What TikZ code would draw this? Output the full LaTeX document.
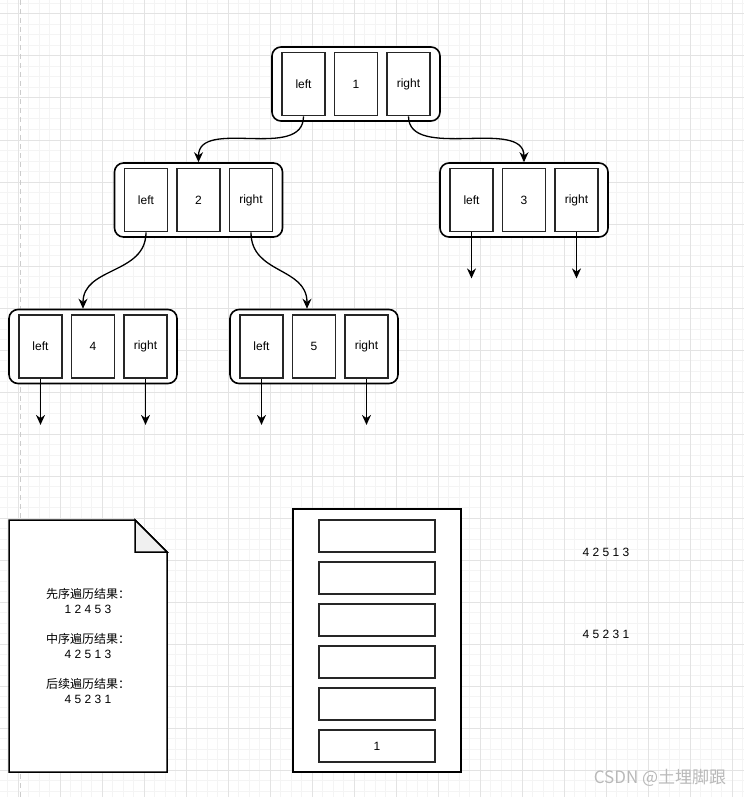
\documentclass[tikz,border=0pt]{standalone}
\usepackage{fontspec}
\setmainfont{Liberation Sans}
\newfontfamily\cjk{Noto Sans CJK SC}
\usetikzlibrary{arrows.meta}

\begin{document}
\begin{tikzpicture}[>={Stealth[length=10pt,width=9pt]},x=1pt,y=-1pt,
  font=\fontsize{12}{15}\selectfont,
  holder/.style={draw,fill=white,line width=1.6pt,rounded corners=9pt,minimum width=168pt,minimum height=74pt},
  cell/.style={draw=black!85,fill=white,line width=1.8pt,minimum width=43pt,minimum height=63pt,inner sep=0pt},
  slot/.style={draw=black!85,fill=white,line width=1.8pt,minimum width=116pt,minimum height=32pt,inner sep=0pt},
  link/.style={->,line width=1.3pt}]

\useasboundingbox (0,0) rectangle (744,797);
\fill[white] (0,0) rectangle (744,797);
\foreach \gx in {7.8,18.3,...,744} \draw[gray!9,line width=1pt] (\gx,0) -- (\gx,797);
\foreach \gy in {3.5,14,...,797} \draw[gray!9,line width=1pt] (0,\gy) -- (744,\gy);
\foreach \gx in {18.3,60.3,...,744} \draw[gray!22,line width=1pt] (\gx,0) -- (\gx,797);
\foreach \gy in {14,56,...,797} \draw[gray!22,line width=1pt] (0,\gy) -- (744,\gy);
\draw[gray!40,line width=1pt,dash pattern=on 5pt off 4pt] (20.5,0) -- (20.5,797);

% tree nodes
\foreach \n/\x/\y/\v in {n1/356/84/1, n2/198.5/200/2, n3/524/200/3, n4/93/346.5/4, n5/314/346.5/5} {
  \node[holder] (\n) at (\x,\y) {};
  \node[cell] (\n-l) at ([xshift=-52.5pt]\n.center) {left};
  \node[cell] (\n-v) at (\n.center) {\v};
  \node[cell] (\n-r) at ([xshift=52.5pt]\n.center) {right};
}

\draw[link] (n1-l.south) .. controls +(0,45) and +(0,-45) .. (n2.north);
\draw[link] (n1-r.south) .. controls +(0,45) and +(0,-45) .. (n3.north);
\draw[link] (n2-l.south) .. controls +(0,42) and +(0,-42) .. ([xshift=-10pt]n4.north);
\draw[link] (n2-r.south) .. controls +(0,42) and +(0,-42) .. ([xshift=-7pt]n5.north);

\foreach \n in {n3,n4,n5} {
  \coordinate (\n-le) at ([yshift=-46pt]\n-l.south);
  \coordinate (\n-re) at ([yshift=-46pt]\n-r.south);
  \draw[link] (\n-l.south) -- (\n-le);
  \draw[link] (\n-r.south) -- (\n-re);
}

% result sheet
\draw[line width=1.5pt,fill=white] (9,520) -- (135,520) -- (167,552) -- (167,772) -- (9,772) -- cycle;
\filldraw[line width=1.5pt,fill=gray!12] (135,520) -- (135,552) -- (167,552) -- cycle;
\node[align=center] (order) at (88,646) {{\cjk 先序遍历结果：}\\ 1 2 4 5 3\\[15pt]
  {\cjk 中序遍历结果：}\\ 4 2 5 1 3\\[15pt]
  {\cjk 后续遍历结果：}\\ 4 5 2 3 1};

% stack
\node[draw,fill=white,line width=1.6pt,minimum width=168pt,minimum height=263pt] (stack) at (377,640.5) {};
\foreach \i in {1,...,5} \node[slot] (s\i) at (377,{494+42*\i}) {};
\node[slot] (s6) at (377,746) {1};

\node (midtxt) at (606,552) {4 2 5 1 3};
\node (posttxt) at (606,634) {4 5 2 3 1};

\node[text=gray!55,font=\cjk\fontsize{17}{17}\selectfont] (mark) at (660,778) {CSDN @土埋脚跟};

\end{tikzpicture}
\end{document}
